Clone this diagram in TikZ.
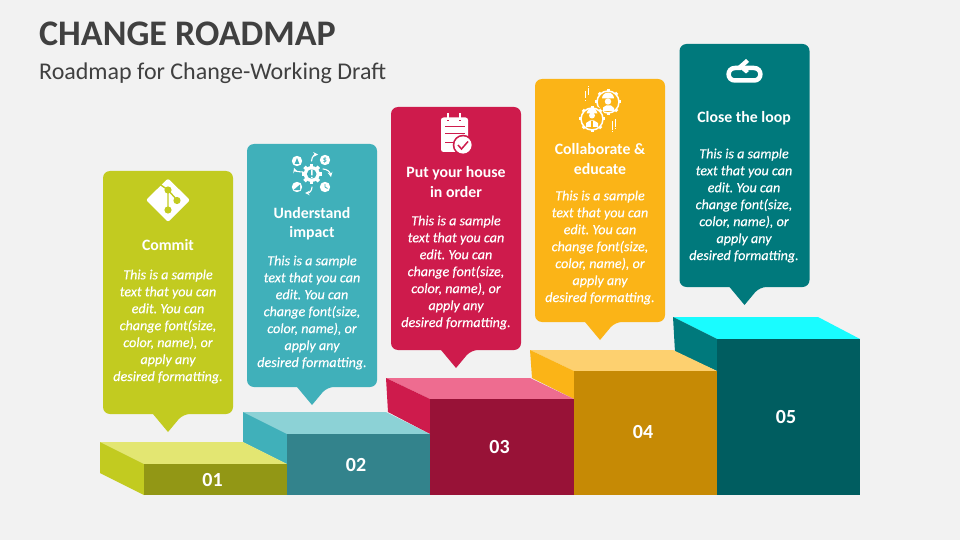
\documentclass[tikz,border=0pt]{standalone}
\usepackage{fontspec}
\setmainfont{Carlito}
\frenchspacing
\definecolor{bg}{HTML}{F2F2F2}
\definecolor{ink}{HTML}{404040}
\definecolor{olA}{HTML}{C2CB20}\definecolor{olB}{HTML}{929715}\definecolor{olC}{HTML}{E3E672}
\definecolor{blA}{HTML}{40B0BA}\definecolor{blB}{HTML}{33838C}\definecolor{blC}{HTML}{8CD2D6}
\definecolor{reA}{HTML}{CE1B4C}\definecolor{reB}{HTML}{981237}\definecolor{reC}{HTML}{EE6C90}
\definecolor{orA}{HTML}{FBB417}\definecolor{orB}{HTML}{C68A05}\definecolor{orC}{HTML}{FDD06F}
\definecolor{teA}{HTML}{00797C}\definecolor{teB}{HTML}{005D60}\definecolor{teC}{HTML}{19FCFF}
\tikzset{
  head/.style={text=white,align=center,font=\fontsize{15.8}{19.5}\selectfont\bfseries},
  body/.style={text=white,align=center,font=\fontsize{14.1}{16.95}\selectfont\itshape\addfontfeature{FakeBold=0.25}},
  num/.style={text=white,font=\fontsize{20}{22}\selectfont\bfseries},
  ar/.style={draw=white,line width=1.1pt,line cap=round},
}
% x, y (top-left), colour
\newcommand{\cardshape}[3]{%
  \fill[#3,rounded corners=7pt] (#1+65,#2) -- (#1+130,#2) -- (#1+130,#2+243) -- (#1+80,#2+243) [sharp corners] -- (#1+65,#2+261) -- (#1+50,#2+243) [rounded corners=7pt] -- (#1,#2+243) -- (#1,#2) -- cycle;}
\newcommand{\gearshape}[4]{% x y r colour(hole)
  \fill[white] (#1,#2) circle[radius=#3];
  \foreach \a in {0,45,...,315}{\fill[white,shift={(#1,#2)},rotate=\a] (-#3*0.22,-#3*1.27) rectangle (#3*0.22,0);}
  \fill[#4] (#1,#2) circle[radius=#3*0.6];}
% thin gear ring: x y r
\newcommand{\ringgear}[3]{%
  \draw[white,line width=1.5pt] (#1,#2) circle[radius=#3];
  \foreach \a in {0,45,...,315}{\fill[white,shift={(#1,#2)},rotate=\a] (-1.5,-#3-2) rectangle (1.5,-#3);}}
\begin{document}
\begin{tikzpicture}[x=1pt,y=-1pt]
\useasboundingbox (0,0) rectangle (960,540);
\fill[bg] (0,0) rectangle (960,540);
\node[anchor=west,inner sep=0,text=ink,font=\fontsize{36}{38}\selectfont\bfseries] (title) at (39,34) {CHANGE ROADMAP};
\node[anchor=west,inner sep=0,text=ink,font=\fontsize{24}{26}\selectfont] (subtitle) at (39,73) {Roadmap for Change-Working Draft};
% cards
\cardshape{103}{171}{olA}
\cardshape{247}{144}{blA}
\cardshape{391}{107}{reA}
\cardshape{535}{79}{orA}
\cardshape{679.5}{44}{teA}
% step 5
\fill[teC] (673,317) -- (818,317) -- (860,339) -- (717,339) -- cycle;
\fill[teA] (673,317) -- (717,339) -- (717,371) -- (675,352) -- cycle;
\fill[teB] (717,339) rectangle (860,495);
% step 4
\fill[orC] (530,350) -- (673,350) -- (717,371) -- (574,371) -- cycle;
\fill[orA] (530,350) -- (574,371) -- (574,399) -- (532,378) -- cycle;
\fill[orB] (574,371) rectangle (717,495);
% step 3
\fill[reC] (386,378) -- (530,378) -- (574,399) -- (430,399) -- cycle;
\fill[reA] (386,378) -- (430,399) -- (430,434) -- (388,412) -- cycle;
\fill[reB] (430,399) rectangle (574,495);
% step 2
\fill[blC] (243,412) -- (386,412) -- (430,434) -- (287,434) -- cycle;
\fill[blA] (243,412) -- (287,434) -- (287,464) -- (243,442) -- cycle;
\fill[blB] (287,434) rectangle (430,495);
% step 1
\fill[olC] (100,442) -- (243,442) -- (287,464) -- (144,464) -- cycle;
\fill[olA] (100,442) -- (144,464) -- (144,495) -- (100,473) -- cycle;
\fill[olB] (144,464) rectangle (287,495);
% numbers
\node[num] (n1) at (212.5,480) {01};
\node[num] (n2) at (356,465) {02};
\node[num] (n3) at (499.5,447) {03};
\node[num] (n4) at (643,432) {04};
\node[num] (n5) at (786,417) {05};
% headings
\node[head] (h1) at (168,245) {Commit};
\node[head] (h2) at (312,223.5) {Understand\\impact};
\node[head] (h3) at (456,182) {Put your house\\in order};
\node[head] (h4) at (600,159) {Collaborate \&\\educate};
\node[head] (h5) at (744,118.5) {Close the loop};
% bodies
\def\bodytext{This is a sample\\text that you can\\edit. You can\\change font(size,\\color, name), or\\apply any\\desired formatting.}
\node[body] (b1) at (168,326.5) {\bodytext};
\node[body] (b2) at (312,312.5) {\bodytext};
\node[body] (b3) at (456,272.5) {\bodytext};
\node[body] (b4) at (600,247.5) {\bodytext};
\node[body] (b5) at (744,205.5) {\bodytext};
% icon 1: git
\fill[white,rounded corners=2pt] (168,178.5) -- (190,200) -- (168,222) -- (146,200) -- cycle;
\draw[olA,line width=1.4pt] (159.5,184) -- (168,190) -- (168,210);
\draw[olA,line width=1.4pt] (168,190) -- (177,200);
\fill[olA] (168,190) circle[radius=3.6] (177,200.5) circle[radius=3.6] (168,210) circle[radius=3.6];
% icon 2
\gearshape{311.7}{174}{8}{blA}
\fill[white] (311,169.5) rectangle (312.6,175.5) (311,176.8) rectangle (312.6,178.4);
\fill[white] (297,161) circle[radius=5.2] (325,160) circle[radius=5.2] (297,187) circle[radius=5.2] (325,187) circle[radius=5.2];
\fill[blA] (297,158) -- (299.4,164) -- (294.6,164) -- cycle;
\node[inner sep=0,text=blA,font=\fontsize{8}{8}\selectfont\bfseries] (dollar) at (325,160) {\$};
\draw[blA,line width=0.8pt] (325,184) -- (325,187) -- (327.5,188.5);
\fill[blA] (293.5,190) -- (300,184.5) -- (300,190) -- cycle;
\draw[ar,-stealth] (311.5,161) .. controls (312,156) and (315,154.5) .. (318,154.5);
\draw[ar,-stealth] (303,172) .. controls (299,172) and (295,171) .. (294,168);
\draw[ar,-stealth] (323,169) .. controls (327,169) and (330,172) .. (331,177);
\draw[ar,-stealth] (312,187) .. controls (312,191) and (309,193) .. (305,193);
% icon 3
\fill[white,rounded corners=2.5pt] (441,117.5) rectangle (468,152);
\draw[reA,line width=2.6pt] (448,114) -- (448,121) (460,114) -- (460,121);
\draw[white,line width=1.4pt] (448,113.5) -- (448,120) (460,113.5) -- (460,120);
\draw[reA,line width=1pt] (445,127) -- (465,127) (445,134) -- (465,134) (445,143) -- (455,143);
\fill[reA] (463,145) circle[radius=10.3];
\fill[white] (463,145) circle[radius=8.6];
\draw[reA,line width=1.5pt] (458,145) -- (461.5,149) -- (468,141.5);
% icon 4
\ringgear{608}{102}{11}
\fill[orA] (592,119) circle[radius=13.5];
\ringgear{592}{119}{11}
\fill[white] (592,115.5) circle[radius=3];
\fill[white] (586.5,113.5) arc[start angle=180,end angle=360,radius=5.5] -- cycle;
\fill[white] (586,127) -- (586,123) -- (590,120.5) -- (594,120.5) -- (598,123) -- (598,127) -- cycle;
\fill[orA] (591.2,121) rectangle (592.8,127);
\fill[white] (608,101.5) circle[radius=3.2];
\fill[white] (602,98.5) arc[start angle=180,end angle=360,radius=6] -- cycle;
\fill[white] (603,111) -- (603,107.5) -- (606,105.5) -- (611,105.5) -- (614,108) -- (614,111) -- cycle;
\draw[white,line width=1pt] (585,91) -- (585,98.5) (585,100) -- (585,101);
\draw[white,line width=1pt] (588,88) -- (588,95.5) (588,86) -- (588,87);
\draw[white,line width=1pt] (612,121) -- (612,130) (612,131.5) -- (612,132.5);
\draw[white,line width=1pt] (615,119) -- (615,127) (615,128.5) -- (615,129.5);
% icon 5
\draw[white,line width=4.5pt,line cap=butt] (741,68) -- (735,68) .. controls (726.5,68) and (726.5,80.5) .. (735,80.5) -- (754,80.5) .. controls (762.5,80.5) and (762.5,68) .. (754,68) -- (744,68);
\fill[white] (746,59) -- (737.5,66.5) -- (746,73.5) -- (749,71) -- (744,66.5) -- (749,62) -- cycle;
\end{tikzpicture}
\end{document}
